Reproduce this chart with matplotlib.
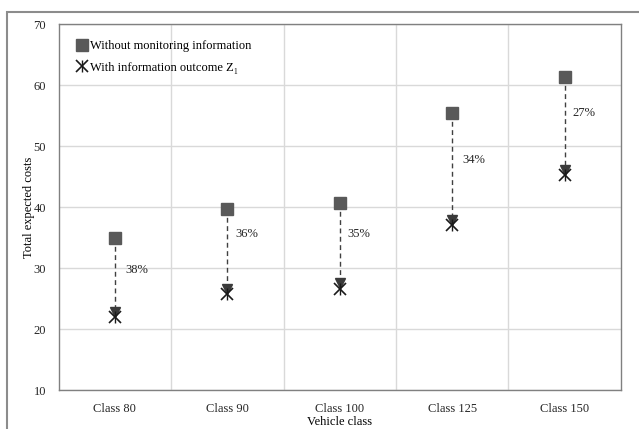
import matplotlib
matplotlib.use("Agg")
import matplotlib.pyplot as plt
from matplotlib.patches import Rectangle
import numpy as np

plt.rcParams['font.family'] = ['Liberation Serif', 'DejaVu Serif']

# data
klasser = ["Class 80", "Class 90", "Class 100", "Class 125", "Class 150"]
uten_info = [34.9, 39.7, 40.7, 55.5, 61.3]
med_info = [21.9, 25.7, 26.5, 37.0, 45.2]
pil_spiss = [22.8, 26.6, 27.6, 37.9, 46.0]
prosent = ["38%", "36%", "35%", "34%", "27%"]
prosent_y = [29.7, 35.5, 35.6, 47.7, 55.4]

fig = plt.figure(figsize=(6.39, 4.29), dpi=100)
ax = fig.add_axes([0.0917, 0.0909, 0.880, 0.853])

# ramme rundt figuren
fig.patches.append(Rectangle((7 / 639, -0.05), 1.1, 1 - 12 / 429 + 0.05, transform=fig.transFigure,
                             fill=False, edgecolor="#8c8c8c", linewidth=1.5))

x = np.arange(len(klasser))

for i in range(len(klasser)):
    ax.plot([x[i], x[i]], [uten_info[i], pil_spiss[i]], linestyle="--", color="#404040",
            linewidth=1.0, dashes=(3.5, 2.5), zorder=2)
    ax.text(x[i] + 0.09 - (0.02 if i in (1, 2, 4) else 0), prosent_y[i], prosent[i],
            fontsize=9, va="center", ha="left", color="#262626")

ax.plot(x, pil_spiss, linestyle="none", marker="v", markersize=6.5, color="#3a3a3a", zorder=3)
firkant, = ax.plot(x, uten_info, linestyle="none", marker="s", markersize=8.5, color="#595959",
                   zorder=4)
kryss, = ax.plot(x, med_info, linestyle="none", marker="x", markersize=8, markeredgewidth=1.2,
                 color="#1a1a1a", zorder=4)
strek, = ax.plot(x, med_info, linestyle="none", marker="|", markersize=9, markeredgewidth=1.0,
                 color="#1a1a1a", zorder=4)

ax.set_xlim(-0.5, 4.5)
ax.set_ylim(10, 70)
ax.set_yticks(range(10, 71, 10))
ax.set_xticks(x)
ax.set_xticklabels(klasser, fontsize=9)
ax.set_xticks(np.arange(0.5, 4, 1), minor=True)
ax.tick_params(axis="both", which="both", length=0, labelsize=9, colors="#262626")
ax.tick_params(axis="x", pad=9)
ax.tick_params(axis="y", pad=9)
ax.grid(axis="y", which="major", color="#d9d9d9", linewidth=1)
ax.grid(axis="x", which="minor", color="#d9d9d9", linewidth=1)
ax.set_axisbelow(True)
for s in ax.spines.values():
    s.set_color("#808080")
    s.set_linewidth(1.0)

ax.set_xlabel("Vehicle class", fontsize=9, labelpad=1)
ax.set_ylabel("Total expected costs", fontsize=9, labelpad=-1)

ax.legend([firkant, (kryss, strek)],
          ["Without monitoring information", "With information outcome Z₁"],
          loc="upper left", bbox_to_anchor=(0.02, 0.98), frameon=False, fontsize=9,
          handlelength=0.6, handletextpad=0.3, labelspacing=0.75, borderaxespad=0.3)

plt.savefig("out.png", dpi=100)
